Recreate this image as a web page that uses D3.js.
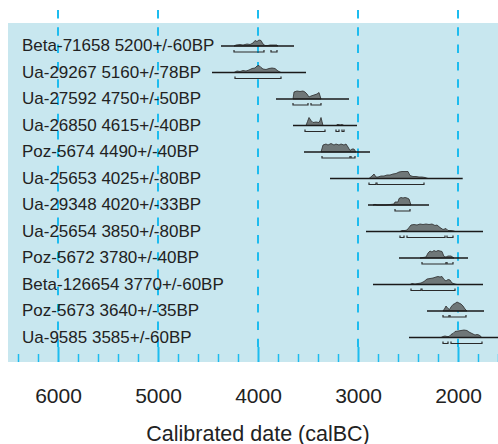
<!DOCTYPE html>
<html><head><meta charset="utf-8">
<script src="https://cdn.jsdelivr.net/npm/d3@7"></script>
<style>html,body{margin:0;padding:0;background:#fff;}svg{display:block;}</style>
</head><body>
<svg id="chart" width="498" height="444"></svg>
<script>
// ---- data (years calBC) ----
const labels = [
  "Beta-71658 5200+/-60BP","Ua-29267 5160+/-78BP","Ua-27592 4750+/-50BP","Ua-26850 4615+/-40BP",
  "Poz-5674 4490+/-40BP","Ua-25653 4025+/-80BP","Ua-29348 4020+/-33BP","Ua-25654 3850+/-80BP",
  "Poz-5672 3780+/-40BP","Beta-126654 3770+/-60BP","Poz-5673 3640+/-35BP","Ua-9585 3585+/-60BP"
];
const rangeStart = [4370,4460,3820,3650,3540,3280,2900,2920,2590,2850,2310,2490];
const rangeEnd   = [3640,3520,3090,3010,2880,1953,2290,1750,1900,1750,1740,1500];
// probability distributions: [year, relative probability]
const distributions = [
  [[4240,0],[4220,1],[4180,1.5],[4150,1],[4110,2],[4080,1.5],[4050,3],[4030,5.5],[4010,4.5],[3990,6],[3970,5.5],[3950,2],[3930,0.5],[3900,0.5],[3880,1],[3850,1],[3810,1],[3800,0]],
  [[4240,0],[4210,1.5],[4180,1],[4150,2],[4120,1.5],[4090,2.5],[4060,4],[4030,4.5],[4010,6.5],[3990,7],[3970,5],[3950,3.5],[3920,3],[3890,4],[3860,4.5],[3830,4],[3800,1.5],[3770,0]],
  [[3650,0],[3640,7],[3610,8],[3580,7.5],[3550,8],[3530,7],[3510,5],[3490,2],[3470,3],[3440,4],[3410,5],[3390,6.5],[3370,0]],
  [[3520,0],[3505,4],[3490,8],[3470,5],[3450,3],[3420,3.5],[3390,3],[3380,5],[3370,8],[3360,4],[3350,0],[3220,0],[3210,1],[3190,1],[3180,0.5],[3160,1],[3140,0]],
  [[3370,0],[3350,7],[3320,8],[3300,7],[3270,8.5],[3240,7],[3220,8],[3190,7],[3170,8],[3140,7],[3120,8],[3100,5],[3080,1.5],[3060,3],[3040,3],[3020,0]],
  [[2890,0],[2860,2.5],[2840,4.5],[2820,1.5],[2800,1.5],[2770,2.5],[2740,2.5],[2710,3.5],[2680,3.5],[2650,4.5],[2620,5],[2590,6.5],[2560,7],[2530,7],[2500,7],[2480,3],[2450,2],[2420,2],[2390,1.5],[2360,1.5],[2330,1],[2300,0]],
  [[2850,0],[2830,0.7],[2810,0],[2720,0],[2680,0.5],[2640,1],[2630,3],[2600,3],[2590,6.5],[2570,7.5],[2550,7],[2530,7.5],[2510,7],[2490,6],[2470,0]],
  [[2580,0],[2560,1],[2530,1],[2510,1.5],[2490,4],[2470,6.5],[2440,7],[2410,6.5],[2380,7.5],[2350,7],[2320,7.5],[2290,7],[2260,7.5],[2230,6],[2210,6.5],[2180,4],[2150,2],[2120,3],[2100,1],[2070,1],[2040,0.5],[2030,0]],
  [[2380,0],[2350,0.5],[2320,1],[2300,5],[2280,7],[2260,6],[2240,7.5],[2220,6.5],[2200,7.5],[2180,7],[2160,6.5],[2140,1.5],[2120,1],[2100,2],[2070,2],[2040,0]],
  [[2480,0],[2460,1],[2430,0.5],[2400,1],[2370,1.5],[2340,3],[2310,5.5],[2280,6],[2250,6.5],[2220,7.5],[2200,8],[2180,7.5],[2160,8],[2140,5],[2120,3.5],[2100,5],[2080,4.5],[2060,1.5],[2030,0.5],[2010,0]],
  [[2150,0],[2130,3],[2120,5],[2100,2.5],[2085,1.5],[2070,4],[2050,6.5],[2030,7.5],[2010,9],[1990,8],[1970,7],[1950,5],[1930,2],[1910,0]],
  [[2170,0],[2150,1],[2130,1.5],[2110,1],[2090,1],[2070,3],[2050,4],[2030,6],[2000,6.5],[1970,7],[1940,7.5],[1910,7],[1890,5.5],[1870,4.5],[1850,3.5],[1830,2.5],[1810,3],[1790,2.5],[1770,1],[1760,0]]
];
// highest-probability ranges: [from, to]
const ranges = [
  [[4240,3940],[3870,3810]],
  [[4230,3770]],
  [[3650,3500],[3470,3370]],
  [[3530,3330],[3220,3190],[3160,3140]],
  [[3360,3080],[3070,3030]],
  [[2890,2820],[2810,2340]],
  [[2630,2480]],
  [[2580,2540],[2510,2130],[2110,2050]],
  [[2360,2120],[2110,2050]],
  [[2470,2370],[2360,2030]],
  [[2150,2090],[2080,1920]],
  [[2150,2100],[2070,1760]]
];
const majorTicks = [6000,5000,4000,3000,2000];
const minorTicks = d3.range(6400, 1599, -200).filter(v => v % 1000 !== 0);
const axisTitle = "Calibrated date (calBC)";

// ---- drawing ----
const svg = d3.select("#chart");
const W = 498, H = 444;
const panel = {x0: 8, x1: 498, y0: 23, y1: 362};
const x = d3.scaleLinear().domain([6000, 2000]).range([58, 458]);
const yRow = d3.scalePoint().domain(labels).range([46, 337.5]);
const hScale = d3.scaleLinear().domain([0, 10]).range([0, 10]);

const cyan = "#1dbcef";
svg.append("rect").attr("x", panel.x0).attr("y", panel.y0)
  .attr("width", panel.x1 - panel.x0).attr("height", panel.y1 - panel.y0)
  .attr("fill", "#c8e7ef");

// dashed grid lines
svg.append("g").selectAll("line").data(majorTicks).join("line")
  .attr("x1", d => x(d)).attr("x2", d => x(d))
  .attr("y1", 10).attr("y2", 347)
  .attr("stroke", cyan).attr("stroke-width", 2)
  .attr("stroke-dasharray", "8.5,8.8");

// axis ticks at bottom of panel
const axisMajor = d3.axisTop(x).tickValues(majorTicks).tickSize(15).tickFormat("");
const axisMinor = d3.axisTop(x).tickValues(minorTicks).tickSize(8).tickFormat("");
const gMaj = svg.append("g").attr("transform", `translate(0,${panel.y1})`).call(axisMajor);
const gMin = svg.append("g").attr("transform", `translate(0,${panel.y1})`).call(axisMinor);
[gMaj, gMin].forEach(g => {
  g.select(".domain").remove();
  g.selectAll(".tick line").attr("stroke", cyan);
});
gMaj.selectAll(".tick line").attr("stroke-width", 2);
gMin.selectAll(".tick line").attr("stroke-width", 1.5);

// tick labels
const axisLabels = d3.axisBottom(x).tickValues(majorTicks).tickSize(0).tickPadding(0).tickFormat(d3.format("d"));
const gLab = svg.append("g").attr("transform", `translate(0,402.5)`).call(axisLabels);
gLab.select(".domain").remove();
gLab.selectAll("text").attr("dy", 0).attr("y", 0)
  .attr("font-family", "'Liberation Sans', Arial, sans-serif").attr("font-size", 21)
  .attr("fill", "#222");

svg.append("text").attr("x", x(4000)).attr("y", 440.5).attr("text-anchor", "middle")
  .attr("font-family", "'Liberation Sans', Arial, sans-serif").attr("font-size", 21.5)
  .attr("fill", "#222").text(axisTitle);

// rows
const rows = svg.append("g").selectAll("g").data(labels).join("g")
  .attr("transform", d => `translate(0,${yRow(d)})`);

rows.append("text").attr("x", 22).attr("y", 5)
  .attr("font-family", "'Liberation Sans', Arial, sans-serif").attr("font-size", 17)
  .attr("fill", "#222").text(d => d);

const area = d3.area().x(d => x(d[0])).y0(0).y1(d => -hScale(d[1])).curve(d3.curveLinear);

rows.append("path")
  .attr("d", (d, i) => area(distributions[i]))
  .attr("fill", "#6f7778").attr("stroke", "#2b2b2b").attr("stroke-width", 0.8);

rows.append("line")
  .attr("x1", (d, i) => x(rangeStart[i])).attr("x2", (d, i) => x(rangeEnd[i]))
  .attr("y1", 0).attr("y2", 0)
  .attr("stroke", "#1a1a1a").attr("stroke-width", 1.6);

rows.each(function(d, i) {
  const g = d3.select(this);
  g.selectAll("path.range").data(ranges[i]).join("path").attr("class", "range")
    .attr("d", r => `M${x(r[0])},4 V6 H${x(r[1])} V4`)
    .attr("fill", "none").attr("stroke", "#2a2a2a").attr("stroke-width", 1.2);
});
</script>
</body></html>
